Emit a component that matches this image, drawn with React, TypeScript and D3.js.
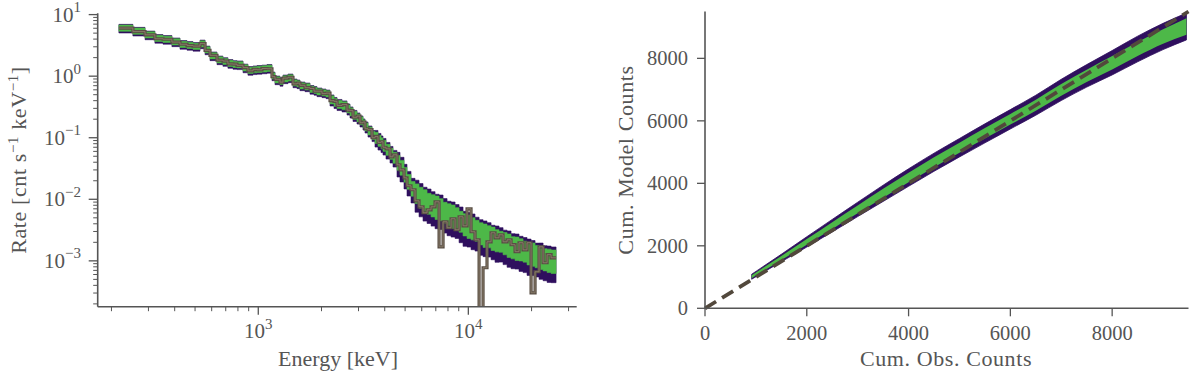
import React, { useEffect, useRef } from "react";
import * as d3 from "d3";

// ---- left panel: count spectrum ----
// bin edges in keV (one more than the bins)
const energyEdges = [
  217, 253, 289, 322, 352, 388, 424, 458, 489, 528,
  558, 589, 636, 679, 717, 758, 792, 846, 893, 944,
  986, 1041, 1100, 1162, 1201, 1269, 1311, 1385, 1463, 1529,
  1579, 1669, 1763, 1842, 1903, 2011, 2101, 2195, 2294, 2371,
  2504, 2645, 2733, 2825, 2951, 3050, 3152, 3222, 3330, 3479,
  3595, 3715, 3839, 3924, 4056, 4238, 4380, 4576, 4729, 4941,
  5106, 5335, 5575, 5825, 6086, 6360, 6645, 6943, 7255, 7580,
  7920, 8276, 8647, 9035, 9436, 9858, 10300, 10760, 11250, 11750,
  12270, 12830, 13400, 14000, 14630, 15290, 15970, 16690, 17430, 18220,
  19030, 19890, 20780, 21710, 22690, 23710, 24770, 26160,
];

// observed rate, cnt / s / keV
const obsRate = [
  6.05, 5.3, 4.7, 4.05, 3.98, 3.58, 3.3, 3.14, 3.08, 3.38,
  2.62, 2.18, 1.82, 1.76, 1.58, 1.57, 1.5, 1.38, 1.22, 1.29,
  1.27, 1.33, 1.32, 0.98, 0.89, 0.8, 0.93, 0.96, 0.75, 0.77,
  0.71, 0.65, 0.63, 0.57, 0.57, 0.52, 0.53, 0.4, 0.39, 0.335,
  0.345, 0.28, 0.275, 0.215, 0.225, 0.175, 0.18, 0.14, 0.135, 0.1,
  0.105, 0.084, 0.086, 0.07, 0.066, 0.049, 0.0528, 0.0363, 0.0301, 0.0223,
  0.0166, 0.0143, 0.00945, 0.00755, 0.00604, 0.00675, 0.00755, 0.00911, 0.00169, 0.00431,
  0.00345, 0.00483, 0.0032, 0.0052, 0.00371, 0.00701, 0.00297, 0.0022, 0, 0.000773,
  0.00204, 0.00286, 0.00237, 0.00265, 0.00204, 0.0022, 0.00183, 0.00141, 0.00197, 0.00151,
  0.00197, 0.000303, 0.000665, 0.00169, 0.000931, 0.00126, 0.00112,
];

// posterior median of the folded model
const modelRate = [
  6.02, 5.38, 4.68, 4.11, 3.96, 3.61, 3.28, 3.16, 3.05, 3.34,
  2.67, 2.14, 1.84, 1.73, 1.61, 1.55, 1.53, 1.36, 1.24, 1.27,
  1.29, 1.31, 1.34, 1.01, 0.871, 0.823, 0.904, 0.938, 0.778, 0.75,
  0.696, 0.67, 0.611, 0.588, 0.556, 0.536, 0.516, 0.412, 0.375, 0.348,
  0.33, 0.294, 0.263, 0.231, 0.21, 0.188, 0.168, 0.15, 0.129, 0.109,
  0.0996, 0.0891, 0.0811, 0.0739, 0.0636, 0.0548, 0.0472, 0.0391, 0.0325, 0.025,
  0.0192, 0.0148, 0.0123, 0.0106, 0.00945, 0.00845, 0.00784, 0.00728, 0.00675, 0.00604,
  0.0056, 0.0052, 0.00483, 0.00431, 0.00385, 0.00358, 0.00332, 0.00308, 0.00275, 0.00256,
  0.00246, 0.00228, 0.00212, 0.00204, 0.0019, 0.00176, 0.00163, 0.00157, 0.00151, 0.00141,
  0.0013, 0.00126, 0.00117, 0.00112, 0.00104, 0.001, 0.000967,
];

// half widths of the credible bands, in decades
const spread68 = [
  0.05, 0.05, 0.05, 0.05, 0.05, 0.05, 0.05, 0.05, 0.05, 0.05,
  0.05, 0.05, 0.05, 0.05, 0.05, 0.05, 0.05, 0.05, 0.05, 0.05,
  0.05, 0.05, 0.05, 0.05, 0.05, 0.05, 0.05, 0.05, 0.05, 0.05,
  0.05, 0.05, 0.05, 0.05, 0.05, 0.05, 0.05, 0.065, 0.065, 0.065,
  0.065, 0.065, 0.065, 0.065, 0.065, 0.065, 0.065, 0.065, 0.065, 0.065,
  0.09, 0.09, 0.09, 0.09, 0.09, 0.09, 0.09, 0.12, 0.12, 0.12,
  0.12, 0.12, 0.16, 0.17, 0.18, 0.17, 0.18, 0.19, 0.18, 0.17,
  0.18, 0.19, 0.18, 0.17, 0.18, 0.19, 0.18, 0.17, 0.18, 0.19,
  0.18, 0.19, 0.18, 0.17, 0.18, 0.19, 0.18, 0.19, 0.18, 0.17,
  0.18, 0.19, 0.18, 0.19, 0.18, 0.19, 0.19,
];
const spread95Lo = [
  0.078, 0.078, 0.078, 0.078, 0.078, 0.078, 0.078, 0.078, 0.078, 0.078,
  0.078, 0.078, 0.078, 0.078, 0.078, 0.078, 0.078, 0.078, 0.078, 0.078,
  0.078, 0.078, 0.078, 0.078, 0.078, 0.078, 0.078, 0.078, 0.078, 0.078,
  0.078, 0.078, 0.078, 0.078, 0.078, 0.078, 0.078, 0.1, 0.1, 0.1,
  0.1, 0.1, 0.1, 0.1, 0.1, 0.1, 0.1, 0.1, 0.1, 0.1,
  0.15, 0.15, 0.15, 0.15, 0.15, 0.15, 0.15, 0.23, 0.23, 0.23,
  0.23, 0.23, 0.3, 0.31, 0.33, 0.32, 0.33, 0.34, 0.32, 0.33,
  0.34, 0.33, 0.32, 0.34, 0.35, 0.33, 0.34, 0.33, 0.35, 0.34,
  0.33, 0.34, 0.35, 0.33, 0.34, 0.35, 0.34, 0.33, 0.35, 0.34,
  0.35, 0.34, 0.33, 0.35, 0.34, 0.35, 0.34,
];
const spread95Hi = [
  0.062, 0.062, 0.062, 0.062, 0.062, 0.062, 0.062, 0.062, 0.062, 0.062,
  0.062, 0.062, 0.062, 0.062, 0.062, 0.062, 0.062, 0.062, 0.062, 0.062,
  0.062, 0.062, 0.062, 0.062, 0.062, 0.062, 0.062, 0.062, 0.062, 0.062,
  0.062, 0.062, 0.062, 0.062, 0.062, 0.062, 0.062, 0.08, 0.08, 0.08,
  0.08, 0.08, 0.08, 0.08, 0.08, 0.08, 0.08, 0.08, 0.08, 0.08,
  0.12, 0.12, 0.12, 0.12, 0.12, 0.12, 0.12, 0.17, 0.17, 0.17,
  0.17, 0.17, 0.22, 0.23, 0.22, 0.24, 0.23, 0.22, 0.24, 0.23,
  0.22, 0.24, 0.23, 0.24, 0.22, 0.23, 0.24, 0.22, 0.23, 0.24,
  0.23, 0.22, 0.24, 0.23, 0.22, 0.24, 0.23, 0.24, 0.22, 0.23,
  0.24, 0.23, 0.22, 0.24, 0.23, 0.24, 0.24,
];

// ---- right panel: cumulative counts ----
const cumObs = [917, 1500, 2000, 2500, 3000, 3500, 4000, 4500, 5000, 5500, 6000, 6500, 7000, 7500, 8000, 8500, 9000, 9460];
const cumLo95 = [930, 1490, 1960, 2445, 2935, 3420, 3905, 4385, 4845, 5295, 5740, 6180, 6650, 7080, 7470, 7890, 8280, 8590];
const cumLo68 = [965, 1544, 2035, 2535, 3039, 3537, 4031, 4515, 4978, 5432, 5880, 6324, 6803, 7242, 7645, 8075, 8469, 8755];
const cumHi68 = [1055, 1676, 2215, 2755, 3291, 3823, 4339, 4835, 5302, 5768, 6220, 6676, 7177, 7638, 8075, 8525, 8931, 9285];
const cumHi95 = [1090, 1730, 2290, 2845, 3395, 3940, 4465, 4965, 5435, 5905, 6360, 6820, 7330, 7800, 8250, 8710, 9120, 9450];
const countTicks = [0, 2000, 4000, 6000, 8000];
const identityLine = [0, 9500];

const PURPLE = "#2f0f5e";
const GREEN = "#4db848";
const DATA_DARK = "#5a4f45";
const DATA_LIGHT = "#8c7f6c";
const DASH = "#52483c";
const AXIS = "#555555";
const FONT = "'Liberation Serif', 'DejaVu Serif', serif";

const App = () => {
  const svgRef = useRef(null);

  useEffect(() => {
    const svg = d3.select(svgRef.current);
    svg.selectAll("*").remove();
    svg.attr("font-family", FONT);

    const defs = svg.append("defs");

    // ======== left: spectrum ========
    const xE = d3.scaleLog().domain([172, 32800]).range([97.7, 576.7]);
    const yR = d3.scaleLog().domain([1.8e-4, 10.5]).range([306.7, 13.3]);

    defs.append("clipPath").attr("id", "specClip")
      .append("rect").attr("x", 97.7).attr("y", 13.3).attr("width", 479).attr("height", 293.4);

    const bins = modelRate.map((m, i) => ({
      e: energyEdges[i],
      obs: obsRate[i],
      lo68: m / 10 ** spread68[i],
      hi68: m * 10 ** spread68[i],
      lo95: m / 10 ** spread95Lo[i],
      hi95: m * 10 ** spread95Hi[i],
    }));
    // repeat the last bin so the step reaches the final edge
    bins.push({ ...bins[bins.length - 1], e: energyEdges[energyEdges.length - 1] });

    const spec = svg.append("g").attr("clip-path", "url(#specClip)");

    const band = (lo, hi) =>
      d3.area()
        .x((d) => xE(d.e))
        .y0((d) => yR(d[lo]))
        .y1((d) => yR(d[hi]))
        .curve(d3.curveStepAfter);

    spec.append("path").attr("d", band("lo95", "hi95")(bins))
      .attr("fill", PURPLE).attr("stroke", PURPLE).attr("stroke-width", 0.6);
    spec.append("path").attr("d", band("lo68", "hi68")(bins))
      .attr("fill", GREEN).attr("stroke", GREEN).attr("stroke-width", 0.6);

    const dataLine = d3.line()
      .x((d) => xE(d.e))
      .y((d) => (d.obs > 0 ? yR(d.obs) : 340)) // empty bins drop off the axis
      .curve(d3.curveStepAfter);

    spec.append("path").attr("d", dataLine(bins))
      .attr("fill", "none").attr("stroke", DATA_DARK).attr("stroke-width", 3.2)
      .attr("stroke-linejoin", "miter");
    spec.append("path").attr("d", dataLine(bins))
      .attr("fill", "none").attr("stroke", DATA_LIGHT).attr("stroke-width", 0.9);

    // spines
    const [x0, x1] = xE.range();
    const [yb, yt] = yR.range();
    svg.append("line").attr("x1", x0).attr("x2", x0).attr("y1", yt).attr("y2", yb)
      .attr("stroke", AXIS).attr("stroke-width", 1.6);
    svg.append("line").attr("x1", x0).attr("x2", x1).attr("y1", yb).attr("y2", yb)
      .attr("stroke", AXIS).attr("stroke-width", 1.6);

    const isDecade = (v) => Math.abs(Math.log10(v) - Math.round(Math.log10(v))) < 1e-9;

    const powLabel = (x, y, exp, anchor) => {
      const t = svg.append("text").attr("x", x).attr("y", y)
        .attr("text-anchor", anchor).attr("font-size", 21).attr("fill", AXIS);
      t.append("tspan").text("10");
      t.append("tspan").attr("dy", -9.5).attr("font-size", 15)
        .text(exp < 0 ? `\u2212${-exp}` : `${exp}`);
    };

    // y ticks
    yR.ticks().forEach((v) => {
      const y = yR(v);
      const major = isDecade(v);
      svg.append("line").attr("x1", x0).attr("x2", x0 - (major ? 9 : 4.5))
        .attr("y1", y).attr("y2", y).attr("stroke", AXIS).attr("stroke-width", major ? 1.3 : 1);
      if (major) powLabel(81, y + 7, Math.round(Math.log10(v)), "end");
    });
    // x ticks
    xE.ticks().forEach((v) => {
      const x = xE(v);
      const major = isDecade(v);
      svg.append("line").attr("x1", x).attr("x2", x)
        .attr("y1", yb).attr("y2", yb + (major ? 8 : 4.5))
        .attr("stroke", AXIS).attr("stroke-width", major ? 1.3 : 1);
      if (major) powLabel(x, 338, Math.round(Math.log10(v)), "middle");
    });

    svg.append("text").attr("x", 338).attr("y", 366).attr("text-anchor", "middle")
      .attr("font-size", 22).attr("fill", AXIS).text("Energy [keV]");

    const yl = svg.append("text").attr("transform", "translate(26,160) rotate(-90)")
      .attr("text-anchor", "middle").attr("font-size", 22).attr("letter-spacing", 0.6)
      .attr("fill", AXIS);
    yl.append("tspan").text("Rate [cnt s");
    yl.append("tspan").attr("dy", -8).attr("font-size", 15).text("\u22121");
    yl.append("tspan").attr("dy", 8).text(" keV");
    yl.append("tspan").attr("dy", -8).attr("font-size", 15).text("\u22121");
    yl.append("tspan").attr("dy", 8).text("]");

    // ======== right: cumulative counts ========
    const xC = d3.scaleLinear().domain([0, 9500]).range([705, 1188.5]);
    const yC = d3.scaleLinear().domain([0, 9500]).range([308.3, 11.5]);

    const cum = cumObs.map((o, i) => ({
      o, lo95: cumLo95[i], lo68: cumLo68[i], hi68: cumHi68[i], hi95: cumHi95[i],
    }));

    const cumBand = (lo, hi) =>
      d3.area()
        .x((d) => xC(d.o))
        .y0((d) => yC(d[lo]))
        .y1((d) => yC(d[hi]))
        .curve(d3.curveMonotoneX);

    svg.append("path").attr("d", cumBand("lo95", "hi95")(cum))
      .attr("fill", PURPLE).attr("stroke", PURPLE).attr("stroke-width", 0.8);
    svg.append("path").attr("d", cumBand("lo68", "hi68")(cum)).attr("fill", GREEN);

    svg.append("line")
      .attr("x1", xC(identityLine[0])).attr("y1", yC(identityLine[0]))
      .attr("x2", xC(identityLine[1])).attr("y2", yC(identityLine[1]))
      .attr("stroke", DASH).attr("stroke-width", 3.8).attr("stroke-dasharray", "13,7");

    const [cx0, cx1] = xC.range();
    const [cyb, cyt] = yC.range();
    svg.append("line").attr("x1", cx0).attr("x2", cx0).attr("y1", cyt).attr("y2", cyb)
      .attr("stroke", AXIS).attr("stroke-width", 1.6);
    svg.append("line").attr("x1", cx0).attr("x2", cx1).attr("y1", cyb).attr("y2", cyb)
      .attr("stroke", AXIS).attr("stroke-width", 1.6);

    countTicks.forEach((v) => {
      const y = yC(v);
      svg.append("line").attr("x1", cx0).attr("x2", cx0 - 8).attr("y1", y).attr("y2", y)
        .attr("stroke", AXIS).attr("stroke-width", 1.3);
      svg.append("text").attr("x", 688).attr("y", y + 7).attr("text-anchor", "end")
        .attr("font-size", 20.5).attr("fill", AXIS).text(v);
      const x = xC(v);
      svg.append("line").attr("x1", x).attr("x2", x).attr("y1", cyb).attr("y2", cyb + 8)
        .attr("stroke", AXIS).attr("stroke-width", 1.3);
      svg.append("text").attr("x", x).attr("y", 340).attr("text-anchor", "middle")
        .attr("font-size", 20.5).attr("fill", AXIS).text(v);
    });

    svg.append("text").attr("x", 946).attr("y", 366).attr("text-anchor", "middle")
      .attr("font-size", 22).attr("letter-spacing", 0.6).attr("fill", AXIS).text("Cum. Obs. Counts");
    svg.append("text").attr("transform", "translate(633,160) rotate(-90)")
      .attr("text-anchor", "middle").attr("font-size", 22).attr("letter-spacing", 0.6)
      .attr("fill", AXIS).text("Cum. Model Counts");
  }, []);

  return (
    <svg
      ref={svgRef}
      width={1200}
      height={375}
      style={{ position: "absolute", left: 0, top: 0, background: "#fff" }}
    ></svg>
  );
};

export default App;
